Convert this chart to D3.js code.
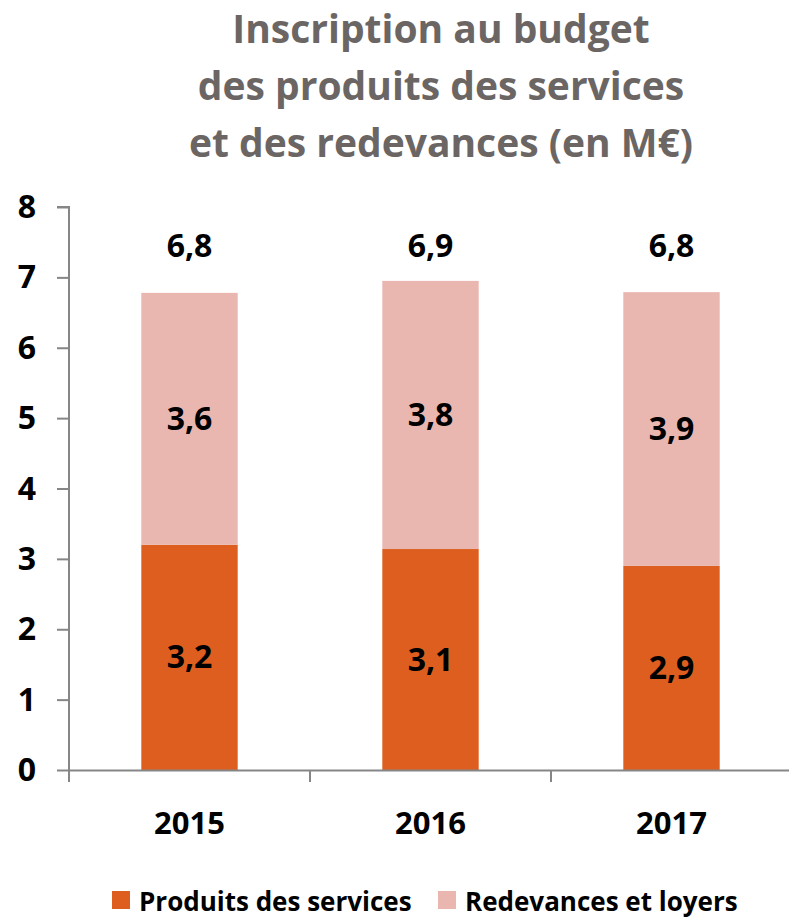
<!DOCTYPE html>
<html>
<head>
<meta charset="utf-8">
<script src="https://cdn.jsdelivr.net/npm/d3@7"></script>
<style>
  body { margin: 0; background: #fff; }
  svg text { font-family: "Open Sans", "Noto Sans", sans-serif; font-weight: 700; }
</style>
</head>
<body>
<svg id="chart" width="789" height="920"></svg>
<script>
const years = ["2015", "2016", "2017"]
const produits = [3.2, 3.14, 2.9]
const redevances = [3.58, 3.81, 3.89]
const produitsLabels = ["3,2", "3,1", "2,9"]
const redevancesLabels = ["3,6", "3,8", "3,9"]
const totalLabels = ["6,8", "6,9", "6,8"]
const yTicks = [0, 1, 2, 3, 4, 5, 6, 7, 8]
const titleLines = ["Inscription au budget", "des produits des services", "et des redevances (en M€)"]
const seriesNames = ["Produits des services", "Redevances et loyers"]

const colors = ["#de5e1f", "#e9b7b0"]

let margin = { top: 207, right: 0, bottom: 150, left: 69 };
let svg = d3.select("#chart");
let plotWidth = 723;
let plotHeight = 770 - margin.top;

let rows = years.map(function(y, i) {
    return { year: y, produits: produits[i], redevances: redevances[i] };
});
let stacked = d3.stack().keys(["produits", "redevances"])(rows);

let x = d3.scaleBand().domain(years).range([0, plotWidth]).paddingInner(0).paddingOuter(0);
let y = d3.scaleLinear().domain([0, 8]).range([plotHeight, 0]);

let plot = svg.append("g").attr("transform", "translate(" + margin.left + "," + margin.top + ")");

// title
svg.append("g").selectAll("text")
    .data(titleLines)
    .enter().append("text")
    .attr("x", 441)
    .attr("y", function(d, i) { return 43 + i * 57; })
    .attr("text-anchor", "middle")
    .attr("fill", "#6b6664")
    .style("font-size", "39px")
    .text(function(d) { return d; });

// bars
let barW = x.bandwidth() * 0.4;
stacked.forEach(function(layer, k) {
    plot.append("g").selectAll("rect")
        .data(layer)
        .enter().append("rect")
        .attr("x", function(d) { return x(d.data.year) + (x.bandwidth() - barW) / 2; })
        .attr("width", barW)
        .attr("y", function(d) { return y(d[1]); })
        .attr("height", function(d) { return y(d[0]) - y(d[1]); })
        .attr("fill", colors[k]);
});

// axes
let yAxis = d3.axisLeft(y).tickValues(yTicks).tickSize(12).tickFormat("");
let yG = plot.append("g").call(yAxis);
let xAxis = d3.axisBottom(x).tickSize(0).tickFormat("");
let xG = plot.append("g").attr("transform", "translate(0," + plotHeight + ")").call(xAxis);
xG.selectAll(".bound").data([0, 1, 2, 3]).enter().append("line")
    .attr("class", "bound")
    .attr("x1", function(d) { return d * x.step(); })
    .attr("x2", function(d) { return d * x.step(); })
    .attr("y1", 0).attr("y2", 12);
svg.selectAll(".domain, .tick line, .bound").attr("stroke", "#868686").attr("stroke-width", 2);
yG.select(".domain").attr("d", "M-12,0H0V" + plotHeight);

// y tick labels
plot.append("g").selectAll("text")
    .data(yTicks)
    .enter().append("text")
    .attr("x", -33)
    .attr("y", function(d) { return y(d) + 11; })
    .attr("text-anchor", "end")
    .style("font-size", "32px")
    .text(function(d) { return d; });

// year labels
plot.append("g").selectAll("text")
    .data(years)
    .enter().append("text")
    .attr("x", function(d) { return x(d) + x.bandwidth() / 2; })
    .attr("y", plotHeight + 64)
    .attr("text-anchor", "middle")
    .style("font-size", "31px")
    .text(function(d) { return d; });

// value labels
let labelSets = [produitsLabels, redevancesLabels];
stacked.forEach(function(layer, k) {
    plot.append("g").selectAll("text")
        .data(layer)
        .enter().append("text")
        .attr("x", function(d) { return x(d.data.year) + x.bandwidth() / 2; })
        .attr("y", function(d) { return y((d[0] + d[1]) / 2) + 11; })
        .attr("text-anchor", "middle")
        .style("font-size", "32px")
        .text(function(d, i) { return labelSets[k][i]; });
});
plot.append("g").selectAll("text")
    .data(stacked[1])
    .enter().append("text")
    .attr("x", function(d) { return x(d.data.year) + x.bandwidth() / 2; })
    .attr("y", 50)
    .attr("text-anchor", "middle")
    .style("font-size", "32px")
    .text(function(d, i) { return totalLabels[i]; });

// legend
let legendX = [112, 438];
let legend = svg.append("g");
seriesNames.forEach(function(name, i) {
    legend.append("rect")
        .attr("x", legendX[i]).attr("y", 891)
        .attr("width", 18).attr("height", 18)
        .attr("fill", colors[i]);
    legend.append("text")
        .attr("x", legendX[i] + 27).attr("y", 911)
        .style("font-size", "26px")
        .text(name);
});
</script>
</body>
</html>
